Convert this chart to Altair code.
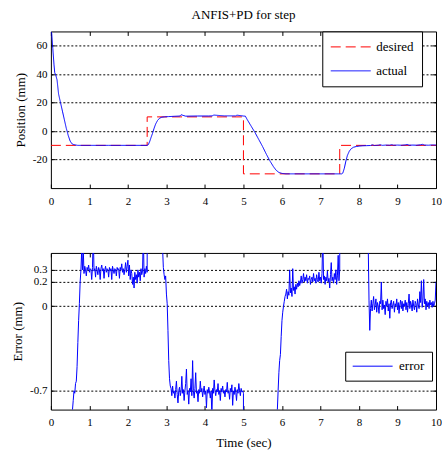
import altair as alt
import pandas as pd

FONT = "Liberation Serif"
BLUE = "#0000ff"
RED = "#ff0000"

title_text = "ANFIS+PD for step"
x_ticks = [0, 1, 2, 3, 4, 5, 6, 7, 8, 9, 10]
pos_ticks = [-20, 0, 20, 40, 60]
err_ticks = [-0.7, 0, 0.2, 0.3]
pos_domain = [-40, 70]
err_domain = [-0.855, 0.44]

# desired step reference (mm)
desired_t = [0, 2.5, 2.5, 5, 5, 7.5, 7.5, 10]
desired_v = [-10, -10, 10, 10, -30, -30, -10, -10]

# actual position (t, mm)
actual_pts = [
    (0.00, 70), (0.02, 69), (0.05, 58), (0.08, 47), (0.10, 41), (0.13, 39), (0.16, 36),
    (0.20, 26), (0.25, 20), (0.30, 14), (0.35, 8), (0.40, 2), (0.45, -3), (0.50, -7),
    (0.55, -9), (0.60, -9.5), (0.65, -9.8), (0.70, -10), (0.80, -10), (1.50, -10),
    (2.50, -10), (2.53, -9.5), (2.57, -7), (2.60, -4.5), (2.64, -1.5), (2.68, 2),
    (2.72, 5), (2.77, 7.5), (2.82, 9), (2.88, 9.8), (2.95, 10), (3.05, 10.2), (3.20, 10.4),
    (3.35, 10.6), (3.38, 11.5), (3.50, 10.5), (3.80, 10.6), (4.10, 10.6), (4.20, 10.7),
    (4.22, 11.3), (4.50, 10.7), (4.80, 10.7), (4.83, 11.2), (5.00, 10.6), (5.05, 10.5),
    (5.10, 8), (5.20, 3.5), (5.30, -1), (5.40, -6), (5.50, -11), (5.60, -16.5),
    (5.70, -21.5), (5.78, -25), (5.85, -27.5), (5.92, -29), (6.00, -29.7), (6.10, -30),
    (6.30, -30), (7.00, -30), (7.55, -30), (7.58, -29.5), (7.62, -26), (7.66, -21),
    (7.70, -17), (7.75, -14), (7.80, -12.3), (7.86, -11.3), (7.93, -10.8), (8.00, -10.5),
    (8.10, -10.3), (8.20, -10.2), (8.30, -10.1), (8.35, -9.6), (8.40, -10.1), (8.50, -9.9),
    (8.55, -9.5), (8.60, -10.0), (8.70, -9.8), (8.80, -9.9), (8.85, -9.5), (8.90, -9.9),
    (9.00, -9.8), (9.10, -9.9), (9.20, -9.7), (9.25, -9.4), (9.30, -9.9), (9.40, -9.8),
    (9.50, -9.9), (9.60, -9.6), (9.65, -9.3), (9.70, -9.8), (9.80, -9.9), (9.90, -9.7),
    (10.00, -9.8),
]

# tracking error (mm): transient pieces as (t, e) pairs, steady pieces sampled every 0.02 s
err_lead = [(0.0, -80), (0.2, -35), (0.4, -10), (0.5, -3), (0.54, -1.2), (0.56, -0.86),
            (0.58, -0.78), (0.60, -0.70), (0.62, -0.72), (0.64, -0.64), (0.66, -0.62),
            (0.68, -0.50), (0.70, -0.30), (0.72, -0.12), (0.74, 0.02), (0.76, 0.20),
            (0.78, 0.30), (0.80, 0.46)]
err_seg1_start = 0.82
err_seg1 = [0.30, 0.48, 0.27, 0.33, 0.30, 0.25, 0.32, 0.30, 0.34, 0.28, 0.31, 0.30, 0.22,
            0.32, 0.60, 0.29, 0.31, 0.24, 0.33, 0.30, 0.26, 0.32, 0.30, 0.22, 0.31, 0.34,
            0.29, 0.31, 0.23, 0.30, 0.33, 0.28, 0.31, 0.30, 0.24, 0.32, 0.29, 0.31, 0.22,
            0.33, 0.30, 0.27, 0.31, 0.30, 0.25, 0.32, 0.30, 0.31, 0.23, 0.32, 0.30, 0.35,
            0.28, 0.31, 0.26, 0.30, 0.36, 0.28, 0.33, 0.38, 0.25, 0.34, 0.22, 0.30, 0.27,
            0.18, 0.24, 0.15, 0.28, 0.22, 0.26, 0.19, 0.30, 0.24, 0.28, 0.21, 0.31, 0.26,
            0.29, 0.60, 0.24, 0.31, 0.27, 0.33]
err_trans1 = [(2.50, 0.28), (2.52, 19.0), (2.70, 6.0), (2.85, 1.5), (2.90, 0.48),
              (2.92, 0.32), (2.94, 0.26), (2.96, 0.22), (2.98, 0.25), (3.00, 0.10),
              (3.02, 0.02), (3.04, -0.20), (3.06, -0.45), (3.08, -0.60), (3.10, -0.66)]
err_seg2_start = 3.12
err_seg2 = [-0.68, -0.74, -0.66, -0.72, -0.70, -0.76, -0.69, -0.62, -0.73, -0.80, -0.70,
            -0.67, -0.74, -0.71, -0.58, -0.72, -0.69, -0.78, -0.70, -0.64, -0.52, -0.73,
            -0.70, -0.81, -0.68, -0.71, -0.60, -0.74, -0.45, -0.70, -0.76, -0.68, -0.55,
            -0.72, -0.70, -0.79, -0.69, -0.72, -0.62, -0.71, -0.68, -0.75, -0.70, -0.66,
            -0.73, -0.70, -0.84, -0.69, -0.72, -0.67, -0.71, -0.76, -0.70, -0.90, -0.68,
            -0.72, -0.61, -0.70, -0.74, -0.69, -0.71, -0.64, -0.73, -0.70, -0.78, -0.68,
            -0.71, -0.66, -0.72, -0.70, -0.75, -0.69, -0.71, -0.63, -0.72, -0.70, -0.77,
            -0.68, -0.71, -0.65, -0.82, -0.70, -0.73, -0.67, -0.71, -0.78, -0.69, -0.72,
            -0.64, -0.70, -0.74, -0.68, -0.71, -0.70]
err_trans2 = [(5.00, -0.72), (5.02, -39), (5.40, -20), (5.70, -5), (5.85, -1.2),
              (5.88, -0.86), (5.90, -0.70), (5.92, -0.55), (5.94, -0.45), (5.96, -0.40),
              (5.98, -0.25), (6.00, -0.12), (6.02, -0.05), (6.04, 0.00), (6.06, 0.04),
              (6.08, 0.08)]
err_seg3_start = 6.10
err_seg3 = [0.10, 0.14, 0.06, 0.12, 0.09, 0.30, 0.11, 0.15, 0.08, 0.31, 0.13, 0.16, 0.10,
            0.18, 0.14, 0.19, 0.16, 0.21, 0.17, 0.20, 0.25, 0.19, 0.22, 0.27, 0.20, 0.24,
            0.21, 0.26, 0.19, 0.23, 0.22, 0.25, 0.18, 0.22, 0.24, 0.20, 0.27, 0.21, 0.23,
            0.19, 0.26, 0.22, 0.20, 0.28, 0.21, 0.24, 0.19, 0.27, 0.60, 0.22, 0.25, 0.18,
            0.24, 0.21, 0.29, 0.20, 0.23, 0.15, 0.26, 0.36, 0.21, 0.24, 0.19, 0.27, 0.22,
            0.30, 0.18, 0.25, 0.42, 0.21]
err_trans3 = [(7.50, 0.30), (7.52, 19.5), (7.80, 8.0), (8.10, 1.5), (8.24, 0.50),
              (8.26, 0.05), (8.28, -0.20)]
err_seg4_start = 8.30
err_seg4 = [-0.02, 0.05, -0.04, 0.02, 0.08, -0.03, 0.01, 0.06, -0.05, 0.03, 0.00, -0.06,
            0.04, 0.02, 0.20, -0.03, 0.05, -0.02, 0.01, -0.07, 0.04, 0.00, 0.06, -0.04,
            0.02, -0.10, 0.03, 0.05, -0.02, 0.01, 0.04, -0.05, 0.02, 0.00, 0.06, -0.03,
            0.03, -0.06, 0.01, 0.05, -0.02, 0.04, -0.04, 0.02, 0.00, 0.05, -0.03, 0.03,
            -0.05, 0.02, 0.10, -0.02, 0.04, 0.01, -0.04, 0.05, 0.00, -0.03, 0.04, 0.02,
            -0.05, 0.06, 0.01, -0.02, 0.12, 0.03, 0.21, -0.01, 0.05, 0.22, 0.02, 0.06,
            -0.03, 0.04, 0.00, 0.03, -0.02, 0.05, 0.01, 0.03, -0.01, 0.04, 0.00, 0.02,
            0.05, 0.20]
SAMPLE_DT = 0.02

# ---------- build tables ----------
des_df = pd.DataFrame({"t": desired_t, "v": desired_v, "series": "desired",
                       "o": range(len(desired_t))})
act_df = pd.DataFrame({"t": [p[0] for p in actual_pts], "v": [p[1] for p in actual_pts],
                       "series": "actual", "o": range(len(actual_pts))})


def sampled(start, vals):
    return [(round(start + SAMPLE_DT * i, 4), v) for i, v in enumerate(vals)]


err_pts = (err_lead + sampled(err_seg1_start, err_seg1) + err_trans1 +
           sampled(err_seg2_start, err_seg2) + err_trans2 +
           sampled(err_seg3_start, err_seg3) + err_trans3 +
           sampled(err_seg4_start, err_seg4))
err_df = pd.DataFrame({"t": [p[0] for p in err_pts], "v": [p[1] for p in err_pts],
                       "series": "error", "o": range(len(err_pts))})

W, H = 386, 157
xs = alt.Scale(domain=[0, 10], nice=False, zero=False)

label_style = dict(labelFont=FONT, labelFontSize=11, labelColor="black")
title_style = dict(titleFont=FONT, titleFontSize=13, titleFontWeight="normal",
                   titleColor="black")
# legend line sample: 40 px long, starting at the symbol column's left edge
LEG_PATH = "M-1,0H4.714"
LEG_SIZE = 196


def x_axis_bottom(title=None):
    kw = dict(values=x_ticks, orient="bottom", offset=-4, tickSize=4, domain=False,
              grid=False, labelPadding=7, tickColor="black", labelFlush=False,
              labelOverlap=False, **label_style, **title_style)
    if title:
        kw["title"] = title
        kw["titlePadding"] = 9
    else:
        kw["title"] = None
    return alt.Axis(**kw)


def y_axis_left(values, title):
    return alt.Axis(values=values, orient="left", offset=-4, tickSize=4, domain=False,
                    grid=True, gridColor="black", gridDash=[2, 2], gridOpacity=1,
                    gridWidth=1, tickColor="black", labelPadding=4, labelOverlap=False,
                    labelExpr="'' + datum.value", title=title, titlePadding=5,
                    **label_style, **title_style)


x_top = alt.Axis(values=x_ticks, orient="top", offset=-4, tickSize=4, domain=False,
                 grid=False, labels=False, tickColor="black", title=None)


def y_right(values):
    return alt.Axis(values=values, orient="right", offset=-4, tickSize=4, domain=False,
                    grid=False, labels=False, tickColor="black", title=None)


# ---------- top panel ----------
ys_pos = alt.Scale(domain=pos_domain, nice=False, zero=False)
col_top = alt.Scale(domain=["desired", "actual"], range=[RED, BLUE])
dash_top = alt.Scale(domain=["desired", "actual"], range=[[10, 5], [1, 0]])
leg_top = alt.Legend(orient="none", legendX=272, legendY=0, title=None,
                     strokeColor="black", fillColor="white", padding=8,
                     labelFont=FONT, labelFontSize=13, labelColor="black",
                     symbolType=LEG_PATH, symbolSize=LEG_SIZE, symbolStrokeWidth=1,
                     rowPadding=9, labelOffset=31, cornerRadius=0)

desired = alt.Chart(des_df).mark_line(strokeWidth=1, clip=True).encode(
    x=alt.X("t:Q", scale=xs, axis=x_axis_bottom()),
    y=alt.Y("v:Q", scale=ys_pos, axis=y_axis_left(pos_ticks, "Position (mm)")),
    color=alt.Color("series:N", scale=col_top, legend=leg_top),
    strokeDash=alt.StrokeDash("series:N", scale=dash_top, legend=leg_top),
    order="o:Q",
)
actual = alt.Chart(act_df).mark_line(strokeWidth=1, clip=True).encode(
    x=alt.X("t:Q", scale=xs, axis=None),
    y=alt.Y("v:Q", scale=ys_pos, axis=None),
    color=alt.Color("series:N", scale=col_top, legend=leg_top),
    strokeDash=alt.StrokeDash("series:N", scale=dash_top, legend=leg_top),
    order="o:Q",
)
frame_top = alt.Chart(act_df).mark_line(opacity=0, clip=True).encode(
    x=alt.X("t:Q", scale=xs, axis=x_top),
    y=alt.Y("v:Q", scale=ys_pos, axis=y_right(pos_ticks)),
)
top = alt.layer(desired, actual, frame_top).resolve_axis(
    x="independent", y="independent"
).properties(
    width=W, height=H,
    title=alt.TitleParams(title_text, font=FONT, fontSize=13, fontWeight="normal",
                          color="black", offset=9, anchor="middle"),
)

# ---------- bottom panel ----------
ys_err = alt.Scale(domain=err_domain, nice=False, zero=False)
col_err = alt.Scale(domain=["error"], range=[BLUE])
leg_err = alt.Legend(orient="none", legendX=295, legendY=99, title=None,
                     strokeColor="black", fillColor="white", padding=7,
                     labelFont=FONT, labelFontSize=13, labelColor="black",
                     symbolType=LEG_PATH, symbolSize=LEG_SIZE, symbolStrokeWidth=1,
                     labelOffset=32, cornerRadius=0)

err_line = alt.Chart(err_df).mark_line(strokeWidth=1, clip=True).encode(
    x=alt.X("t:Q", scale=xs, axis=x_axis_bottom("Time (sec)")),
    y=alt.Y("v:Q", scale=ys_err, axis=y_axis_left(err_ticks, "Error (mm)")),
    color=alt.Color("series:N", scale=col_err, legend=leg_err),
    order="o:Q",
)
frame_bot = alt.Chart(err_df).mark_line(opacity=0, clip=True).encode(
    x=alt.X("t:Q", scale=xs, axis=x_top),
    y=alt.Y("v:Q", scale=ys_err, axis=y_right(err_ticks)),
)
bottom = alt.layer(err_line, frame_bot).resolve_axis(
    x="independent", y="independent"
).properties(width=W, height=H)

chart = alt.vconcat(top, bottom, spacing=45).resolve_scale(
    color="independent", strokeDash="independent", y="independent"
).resolve_legend(
    color="independent", strokeDash="independent"
).configure_view(
    stroke="black", strokeWidth=1
).properties(
    padding={"left": 11, "top": 8, "right": 0, "bottom": 0},
    background="white",
)

chart.save("out.html", embed_options={"renderer": "svg", "actions": False})
